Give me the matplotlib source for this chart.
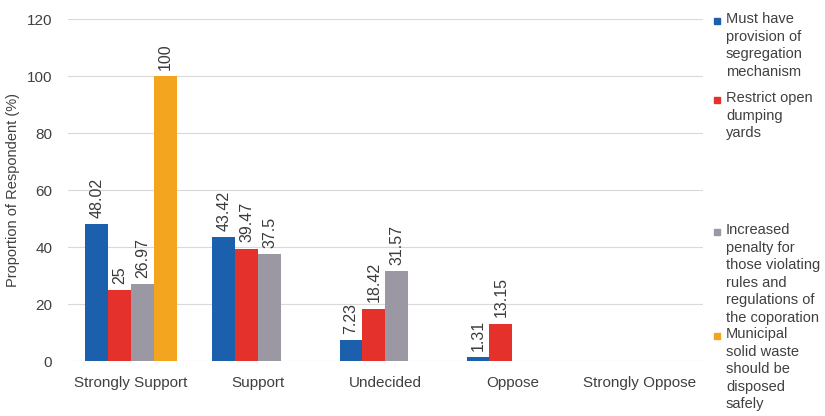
import numpy as np
import matplotlib
matplotlib.use('Agg')
import matplotlib.pyplot as plt
from matplotlib.patches import Rectangle

plt.rcParams['font.family'] = ['Liberation Sans', 'DejaVu Sans']

categories = ['Strongly Support', 'Support', 'Undecided', 'Oppose', 'Strongly Oppose']
segregation = [48.02, 43.42, 7.23, 1.31, 0]
restrict = [25, 39.47, 18.42, 13.15, 0]
penalty = [26.97, 37.5, 31.57, 0, 0]
disposal = [100, 0, 0, 0, 0]

series_labels = [
    'Must have\nprovision of\nsegregation\nmechanism',
    'Restrict open\ndumping\nyards',
    'Increased\npenalty for\nthose violating\nrules and\nregulations of\nthe coporation',
    'Municipal\nsolid waste\nshould be\ndisposed\nsafely',
]
colors = ['#1c5fad', '#e5312b', '#9b98a3', '#f3a51f']

series = [segregation, restrict, penalty, disposal]
yticks = [0, 20, 40, 60, 80, 100, 120]

fig = plt.figure(figsize=(8.25, 4.16), dpi=100)
ax = fig.add_axes([0.082, 0.132, 0.770, 0.822])

x = np.arange(len(categories))
w = 0.18
for i, (vals, col) in enumerate(zip(series, colors)):
    pos = x + (i - 1.5) * w
    vals = np.asarray(vals, dtype=float)
    ax.bar(pos, vals, width=w, color=col, zorder=3)
    for p, v in zip(pos, vals):
        if v > 0:
            ax.text(p, v + 2.2, f'{v:g}', rotation=90, ha='center', va='bottom',
                    fontsize=11.5, color='#3a3a3a')

ax.set_xlim(-0.5, len(categories) - 0.5)
ax.set_ylim(0, 120)
ax.set_yticks(yticks)
ax.set_xticks(x)
ax.set_xticklabels(categories)
ax.grid(axis='y', color='#d9d9d9', linewidth=0.8, zorder=0)
ax.set_axisbelow(True)
for s in ['top', 'right', 'left', 'bottom']:
    ax.spines[s].set_visible(False)
ax.tick_params(axis='both', length=0, labelsize=11, colors='#404040')
ax.tick_params(axis='x', pad=11)
ax.tick_params(axis='y', pad=11)
ax.set_ylabel('Proportion of Respondent (%)', fontsize=10.5, color='#404040', labelpad=5)

# legend laid out by hand, Excel style
leg_centers = [21, 100, 232, 336]
for lab, col, cy in zip(series_labels, colors, leg_centers):
    fig.patches.append(Rectangle((714 / 825, 1 - (cy + 3) / 416), 6 / 825, 6 / 416,
                                 transform=fig.transFigure, color=col, figure=fig))
    fig.text(726 / 825, 1 - (cy - 9) / 416, lab, ha='left', va='top',
             fontsize=10.5, color='#404040', linespacing=1.32)

fig.savefig('out.png', dpi=100, facecolor='white')
